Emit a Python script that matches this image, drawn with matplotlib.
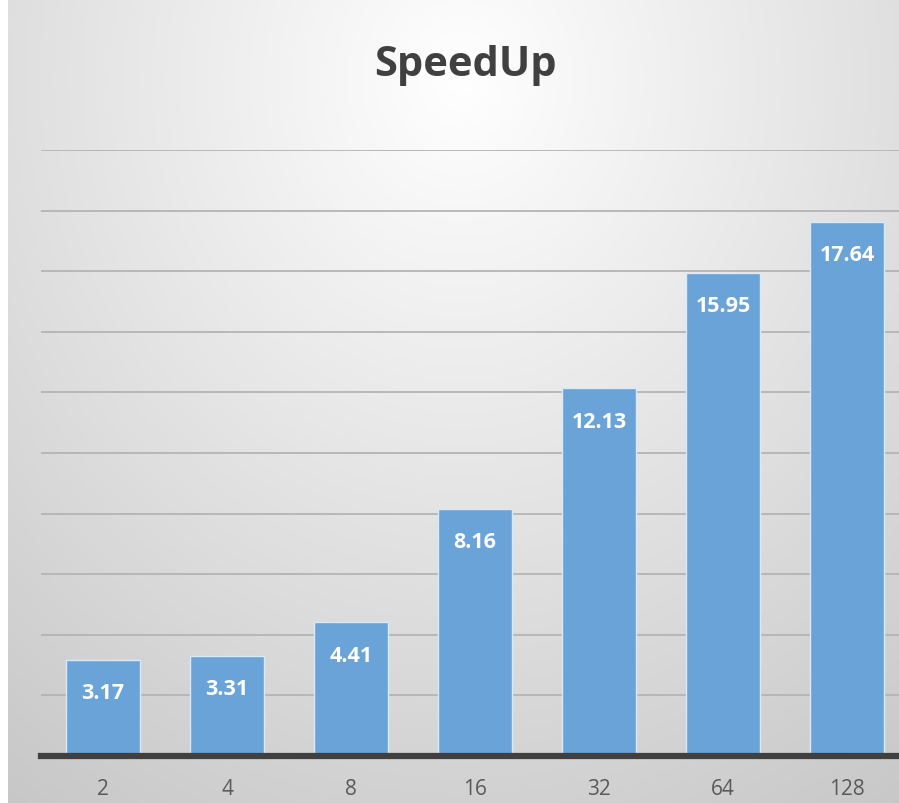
import numpy as np
import matplotlib
matplotlib.use("Agg")
import matplotlib.pyplot as plt

categories = ["2", "4", "8", "16", "32", "64", "128"]
speedup = [3.17, 3.31, 4.41, 8.16, 12.13, 15.95, 17.64]
value_labels = ["3.17", "3.31", "4.41", "8.16", "12.13", "15.95", "17.64"]

W, H = 899, 804
fig = plt.figure(figsize=(W / 100, H / 100), dpi=100)

# background radial gradient
bg = fig.add_axes([0, 0, 1, 1], zorder=0)
yy, xx = np.mgrid[0:H, 0:W]
d = np.sqrt(((xx - 460) / 750.0) ** 2 + ((yy - 80) / 850.0) ** 2)
val = 1.0 - 0.21 * np.clip(d, 0, 1.2)
img = np.dstack([val, val, val])
img[:, :8, :] = 1.0
bg.imshow(img, extent=[0, W, H, 0], aspect="auto", interpolation="bilinear")
bg.set_xlim(0, W)
bg.set_ylim(H, 0)
bg.axis("off")

left = 41 / W
right = 909 / W
bottom = (H - 757) / H
top = (H - 151) / H
ax = fig.add_axes([left, bottom, right - left, top - bottom], zorder=1)
ax.patch.set_alpha(0)

x = np.arange(len(categories))
ax.bar(x, speedup, width=0.59, color="#6aa3d7", edgecolor="#dbe8f5",
       linewidth=1.0, zorder=3)
ax.set_xlim(-0.5, 6.5)
ax.set_ylim(0, 20)
ax.set_yticks(np.arange(2, 21, 2))
ax.yaxis.grid(True, color="#b4b4b4", linewidth=1.3, zorder=0)
ax.tick_params(axis="y", left=False, labelleft=False)
ax.set_xticks(x)
ax.set_xticklabels(categories, fontsize=15, color="#595959", family="Open Sans")
ax.tick_params(axis="x", length=0, pad=16)
for s in ["left", "right", "top"]:
    ax.spines[s].set_visible(False)
ax.spines["bottom"].set_color("#404040")
ax.spines["bottom"].set_linewidth(4.5)
ax.spines["bottom"].set_zorder(5)

for xi, v, lab in zip(x, speedup, value_labels):
    ax.annotate(lab, (xi, v), xytext=(0, -33), textcoords="offset pixels",
                ha="center", va="center", color="white", fontsize=15.5,
                fontweight="bold", family="Open Sans", zorder=6)

fig.text(465 / W, 1 - 65 / H, "SpeedUp", ha="center", va="center",
         fontsize=30, fontweight="bold", color="#404040", family="Open Sans")

fig.savefig("out.png", dpi=100)
